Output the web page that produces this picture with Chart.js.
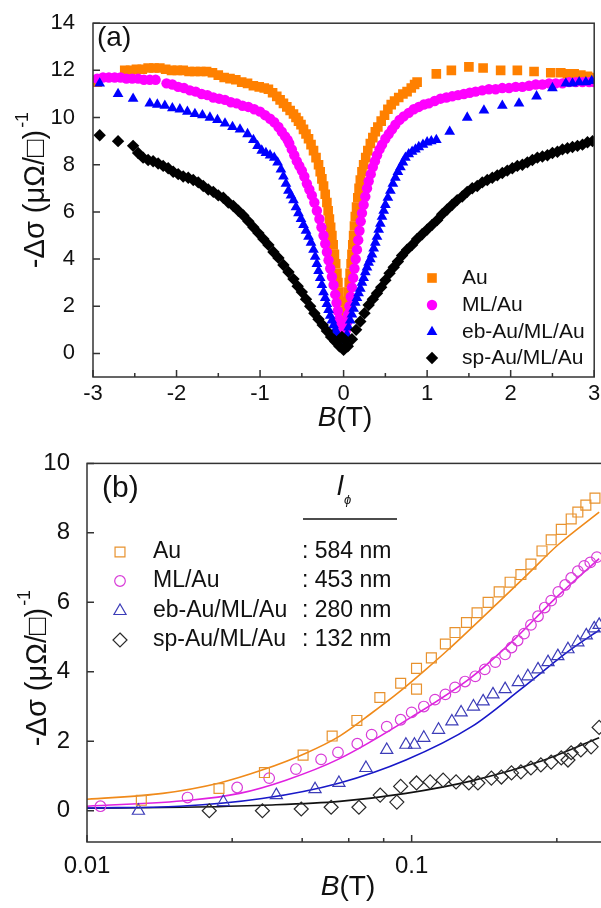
<!DOCTYPE html>
<html>
<head>
<meta charset="utf-8">
<script src="https://cdn.jsdelivr.net/npm/chart.js@4/dist/chart.umd.min.js"></script>
<style>
html, body { margin: 0; padding: 0; background: #fff; overflow: hidden; }
#wrap { position: relative; width: 601px; height: 908px; overflow: hidden; }
#chartA { position: absolute; left: 0; top: 0; }
#chartB { position: absolute; left: 0; top: 440px; }
</style>
</head>
<body>
<div id="wrap">
  <canvas id="chartA" width="601" height="440"></canvas>
  <canvas id="chartB" width="745" height="468"></canvas>
</div>
<script>
// panel (a): -dsigma vs B, linear field axis
const seriesNames = ['Au', 'ML/Au', 'eb-Au/ML/Au', 'sp-Au/ML/Au'];
const phaseLengths = [': 584 nm', ': 453 nm', ': 280 nm', ': 132 nm'];

const auA = [[-2.95,11.5],[-2.62,12.0],[-2.55,12.0],[-2.48,12.05],[-2.41,12.05],[-2.34,12.1],[-2.27,12.1],[-2.2,12.1],[-2.13,12.05],[-2.06,12.0],[-1.99,12.0],[-1.92,12.0],[-1.85,11.95],[-1.78,11.95],[-1.71,11.95],[-1.64,11.95],[-1.57,11.9],[-1.5,11.8],[-1.43,11.7],[-1.36,11.65],[-1.29,11.6],[-1.22,11.5],[-1.15,11.45],[-1.08,11.35],[-1.01,11.3],[-0.95,11.25],[-0.9,11.2],[-0.85,11.05],[-0.8,10.9],[-0.76,10.75],[-0.72,10.6],[-0.68,10.45],[-0.64,10.3],[-0.6,10.15],[-0.57,10.0],[-0.54,9.85],[-0.51,9.7],[-0.48,9.5],[-0.45,9.3],[-0.42,9.1],[-0.39,8.85],[-0.36,8.6],[-0.33,8.3],[-0.3,8.0],[-0.28,7.7],[-0.26,7.4],[-0.24,7.1],[-0.22,6.75],[-0.2,6.4],[-0.185,6.05],[-0.17,5.7],[-0.155,5.35],[-0.14,5.0],[-0.125,4.6],[-0.11,4.2],[-0.095,3.8],[-0.08,3.4],[-0.068,3.0],[-0.056,2.6],[-0.045,2.2],[-0.035,1.8],[-0.025,1.4],[-0.015,1.0],[-0.005,0.6],[0.005,0.6],[0.015,1.0],[0.025,1.4],[0.035,1.8],[0.045,2.2],[0.056,2.6],[0.067,3.0],[0.078,3.4],[0.09,3.8],[0.1,4.2],[0.11,4.6],[0.12,5.0],[0.13,5.4],[0.14,5.8],[0.155,6.2],[0.17,6.6],[0.185,7.0],[0.2,7.35],[0.22,7.7],[0.24,8.0],[0.265,8.3],[0.29,8.6],[0.32,8.9],[0.35,9.15],[0.38,9.4],[0.41,9.6],[0.45,9.85],[0.49,10.1],[0.53,10.35],[0.57,10.55],[0.61,10.7],[0.66,10.85],[0.71,11.0],[0.76,11.1],[0.81,11.25],[0.85,11.4],[0.88,11.5],[1.11,11.85],[1.29,12.0],[1.5,12.15],[1.67,12.1],[1.88,12.0],[2.08,12.0],[2.28,11.95],[2.48,11.9],[2.6,11.9],[2.68,11.85],[2.76,11.85],[2.84,11.8],[2.92,11.75],[3.0,11.7]];

const mlA = [[-2.95,11.65],[-2.88,11.7],[-2.81,11.7],[-2.74,11.7],[-2.67,11.7],[-2.6,11.65],[-2.53,11.65],[-2.46,11.65],[-2.39,11.6],[-2.32,11.6],[-2.25,11.6],[-2.12,11.45],[-2.05,11.4],[-1.98,11.3],[-1.91,11.25],[-1.84,11.15],[-1.77,11.1],[-1.7,11.0],[-1.63,10.95],[-1.56,10.85],[-1.49,10.8],[-1.42,10.75],[-1.35,10.65],[-1.28,10.6],[-1.21,10.5],[-1.14,10.45],[-1.07,10.35],[-1.0,10.25],[-0.94,10.1],[-0.88,9.95],[-0.83,9.8],[-0.78,9.6],[-0.74,9.4],[-0.7,9.2],[-0.67,9.05],[-0.65,8.9],[-0.62,8.65],[-0.59,8.4],[-0.56,8.15],[-0.53,7.95],[-0.5,7.75],[-0.47,7.5],[-0.44,7.2],[-0.41,6.95],[-0.38,6.7],[-0.35,6.4],[-0.32,6.05],[-0.29,5.7],[-0.265,5.35],[-0.24,5.0],[-0.22,4.65],[-0.2,4.3],[-0.18,3.95],[-0.16,3.6],[-0.14,3.25],[-0.12,2.9],[-0.1,2.5],[-0.085,2.15],[-0.07,1.8],[-0.055,1.45],[-0.04,1.1],[-0.025,0.8],[-0.01,0.5],[0.01,0.6],[0.025,0.95],[0.04,1.3],[0.055,1.65],[0.07,2.0],[0.085,2.4],[0.1,2.8],[0.115,3.2],[0.13,3.6],[0.145,4.0],[0.16,4.4],[0.175,4.8],[0.19,5.2],[0.205,5.6],[0.22,5.95],[0.24,6.3],[0.26,6.65],[0.28,7.0],[0.3,7.3],[0.325,7.6],[0.35,7.9],[0.375,8.15],[0.4,8.4],[0.43,8.65],[0.46,8.85],[0.5,9.1],[0.54,9.3],[0.58,9.5],[0.62,9.7],[0.67,9.9],[0.72,10.05],[0.78,10.2],[0.84,10.35],[0.9,10.45],[0.96,10.55],[1.02,10.6],[1.09,10.7],[1.16,10.8],[1.23,10.85],[1.3,10.9],[1.37,10.95],[1.44,11.0],[1.51,11.05],[1.58,11.1],[1.66,11.15],[1.74,11.2],[1.82,11.2],[1.9,11.25],[1.98,11.25],[2.06,11.3],[2.14,11.3],[2.22,11.35],[2.3,11.4],[2.38,11.4],[2.46,11.45],[2.54,11.45],[2.62,11.45],[2.7,11.5],[2.78,11.5],[2.86,11.5],[2.94,11.5],[3.0,11.5]];

const ebA = [[-2.92,11.45],[-2.7,11.0],[-2.52,10.8],[-2.32,10.6],[-2.23,10.55],[-2.14,10.5],[-2.05,10.4],[-1.96,10.35],[-1.87,10.25],[-1.78,10.15],[-1.69,10.1],[-1.6,10.0],[-1.51,9.9],[-1.42,9.75],[-1.33,9.6],[-1.24,9.5],[-1.15,9.3],[-1.08,9.05],[-1.03,8.8],[-0.98,8.6],[-0.93,8.5],[-0.88,8.4],[-0.83,8.3],[-0.79,8.1],[-0.75,7.8],[-0.72,7.5],[-0.69,7.2],[-0.66,6.9],[-0.63,6.7],[-0.6,6.5],[-0.57,6.2],[-0.54,5.95],[-0.51,5.7],[-0.48,5.45],[-0.45,5.2],[-0.42,4.95],[-0.39,4.7],[-0.36,4.4],[-0.34,4.1],[-0.32,3.8],[-0.3,3.5],[-0.28,3.2],[-0.26,2.9],[-0.24,2.6],[-0.22,2.35],[-0.2,2.1],[-0.18,1.85],[-0.16,1.6],[-0.14,1.4],[-0.12,1.2],[-0.1,1.0],[-0.08,0.85],[-0.06,0.7],[-0.04,0.55],[-0.02,0.45],[0.0,0.4],[0.02,0.5],[0.04,0.8],[0.06,1.1],[0.08,1.4],[0.1,1.65],[0.12,1.9],[0.14,2.15],[0.16,2.35],[0.18,2.55],[0.2,2.75],[0.22,3.0],[0.24,3.2],[0.26,3.45],[0.28,3.65],[0.3,3.85],[0.32,4.0],[0.34,4.2],[0.36,4.45],[0.38,4.7],[0.4,4.95],[0.42,5.25],[0.44,5.5],[0.46,5.8],[0.48,6.05],[0.5,6.3],[0.53,6.6],[0.56,6.9],[0.59,7.2],[0.62,7.45],[0.65,7.7],[0.68,7.9],[0.71,8.1],[0.74,8.3],[0.78,8.45],[0.82,8.55],[0.86,8.65],[0.9,8.75],[0.95,8.85],[1.0,8.95],[1.05,9.0],[1.11,9.05],[1.27,9.4],[1.48,10.0],[1.68,10.3],[1.9,10.5],[2.1,10.6],[2.31,10.9],[2.5,11.25],[2.66,11.45],[2.74,11.45],[2.82,11.5],[2.9,11.5],[2.97,11.55]];

const spA = [[-2.92,9.25],[-2.7,9.0],[-2.52,8.8],[-2.46,8.5],[-2.4,8.3],[-2.34,8.2],[-2.28,8.15],[-2.22,8.05],[-2.16,7.95],[-2.1,7.85],[-2.04,7.7],[-1.98,7.6],[-1.92,7.5],[-1.86,7.45],[-1.8,7.35],[-1.74,7.25],[-1.68,7.1],[-1.62,6.95],[-1.56,6.85],[-1.5,6.7],[-1.44,6.6],[-1.38,6.4],[-1.32,6.25],[-1.26,6.05],[-1.2,5.85],[-1.14,5.6],[-1.08,5.35],[-1.02,5.1],[-0.96,4.85],[-0.9,4.6],[-0.84,4.3],[-0.78,4.05],[-0.72,3.75],[-0.66,3.45],[-0.6,3.15],[-0.55,2.85],[-0.5,2.6],[-0.45,2.3],[-0.4,2.0],[-0.35,1.7],[-0.3,1.45],[-0.25,1.2],[-0.2,0.95],[-0.15,0.7],[-0.1,0.5],[-0.05,0.3],[-0.02,0.7],[0.0,0.15],[0.02,0.55],[0.05,0.3],[0.1,0.6],[0.15,1.0],[0.2,1.35],[0.25,1.7],[0.3,2.05],[0.35,2.3],[0.4,2.55],[0.45,2.8],[0.5,3.1],[0.55,3.4],[0.6,3.65],[0.65,3.9],[0.7,4.15],[0.76,4.4],[0.82,4.6],[0.88,4.85],[0.94,5.05],[1.0,5.25],[1.06,5.45],[1.12,5.65],[1.18,5.9],[1.24,6.1],[1.3,6.3],[1.36,6.5],[1.42,6.65],[1.48,6.85],[1.54,7.0],[1.6,7.1],[1.66,7.25],[1.72,7.35],[1.78,7.45],[1.84,7.55],[1.9,7.65],[1.96,7.75],[2.02,7.85],[2.08,7.95],[2.14,8.0],[2.2,8.1],[2.26,8.2],[2.32,8.3],[2.38,8.35],[2.44,8.4],[2.5,8.5],[2.56,8.55],[2.62,8.65],[2.68,8.7],[2.74,8.75],[2.8,8.8],[2.86,8.85],[2.92,8.95],[2.98,9.0]];

// panel (b): log field axis, markers + fitted curves
const auB = [[0.0147,0.3],[0.0255,0.64],[0.0352,1.1],[0.0463,1.6],[0.0569,2.15],[0.0678,2.6],[0.0798,3.26],[0.0925,3.67],[0.1035,3.5],[0.1035,4.1],[0.115,4.4],[0.127,4.8],[0.136,5.13],[0.1475,5.42],[0.159,5.7],[0.172,6.0],[0.186,6.3],[0.201,6.58],[0.217,6.8],[0.233,7.1],[0.252,7.48],[0.269,7.8],[0.289,8.1],[0.31,8.4],[0.325,8.6],[0.344,8.8],[0.367,9.0]];
const mlB = [[0.011,0.13],[0.0204,0.38],[0.029,0.67],[0.0364,0.94],[0.044,1.2],[0.0526,1.48],[0.0593,1.68],[0.068,1.93],[0.0753,2.19],[0.0838,2.42],[0.0925,2.62],[0.1,2.83],[0.109,3.0],[0.118,3.2],[0.127,3.35],[0.136,3.55],[0.146,3.72],[0.157,3.87],[0.168,4.07],[0.181,4.28],[0.194,4.5],[0.203,4.7],[0.212,4.9],[0.222,5.1],[0.233,5.35],[0.245,5.6],[0.257,5.85],[0.269,6.05],[0.283,6.3],[0.297,6.5],[0.31,6.7],[0.325,6.9],[0.34,7.05],[0.355,7.15],[0.372,7.3]];
const ebB = [[0.0144,0.0],[0.0263,0.25],[0.0383,0.45],[0.0504,0.62],[0.0597,0.8],[0.0723,1.23],[0.0838,1.75],[0.096,1.9],[0.102,1.9],[0.109,2.1],[0.121,2.33],[0.133,2.57],[0.142,2.83],[0.155,3.0],[0.166,3.15],[0.178,3.35],[0.194,3.5],[0.213,3.7],[0.228,3.87],[0.245,4.07],[0.263,4.28],[0.282,4.45],[0.303,4.65],[0.325,4.85],[0.345,5.05],[0.365,5.25],[0.378,5.35]];
const spB = [[0.0238,0.0],[0.0347,0.0],[0.0457,0.05],[0.0565,0.1],[0.0688,0.1],[0.08,0.45],[0.09,0.25],[0.0925,0.7],[0.1035,0.8],[0.114,0.83],[0.125,0.88],[0.137,0.83],[0.15,0.8],[0.16,0.8],[0.176,0.94],[0.189,0.97],[0.203,1.09],[0.217,1.12],[0.233,1.23],[0.25,1.32],[0.269,1.4],[0.289,1.52],[0.303,1.46],[0.31,1.67],[0.332,1.75],[0.357,1.84],[0.378,2.4]];

const auFit = [[0.01,0.33],[0.0171,0.5],[0.0256,0.8],[0.0346,1.17],[0.047,1.65],[0.06,2.15],[0.075,2.8],[0.091,3.4],[0.11,4.05],[0.13,4.65],[0.185,6.0],[0.23,6.85],[0.282,7.65],[0.378,8.6]];
const mlFit = [[0.01,0.13],[0.0207,0.3],[0.0295,0.5],[0.041,0.88],[0.06,1.5],[0.1,2.7],[0.153,3.85],[0.208,4.95],[0.276,6.1],[0.378,7.26]];
const ebFit = [[0.01,0.08],[0.0193,0.13],[0.0346,0.35],[0.06,0.8],[0.096,1.46],[0.153,2.42],[0.217,3.5],[0.31,4.65],[0.378,5.2]];
const spFit = [[0.01,0.07],[0.02,0.1],[0.035,0.16],[0.06,0.27],[0.096,0.5],[0.153,0.86],[0.245,1.4],[0.378,2.1]];

// tick values
const aXMajor = [-3, -2, -1, 0, 1, 2, 3];
const aXMinor = [-2.5, -1.5, -0.5, 0.5, 1.5, 2.5];
const aYMajor = [0, 2, 4, 6, 8, 10, 12, 14];
const bXMajor = [0.01, 0.1, 1];
const bXMinor = [0.028, 0.046, 0.064, 0.082, 0.28];
const bYMajor = [0, 2, 4, 6, 8, 10];

const FONT = '"Liberation Sans", Arial, sans-serif';
const pts = arr => arr.map(p => ({x: p[0], y: p[1]}));

function shape(ctx, style, x, y, r) {
  ctx.beginPath();
  if (style === 'rect') {
    const s = r * Math.SQRT1_2;
    ctx.rect(x - s, y - s, 2 * s, 2 * s);
  } else if (style === 'circle') {
    ctx.arc(x, y, r, 0, Math.PI * 2);
  } else if (style === 'triangle') {
    ctx.moveTo(x, y - r);
    ctx.lineTo(x + r * 0.866, y + r * 0.5);
    ctx.lineTo(x - r * 0.866, y + r * 0.5);
    ctx.closePath();
  } else {
    ctx.moveTo(x, y - r); ctx.lineTo(x + r, y); ctx.lineTo(x, y + r); ctx.lineTo(x - r, y);
    ctx.closePath();
  }
}

function frameAndTicks(chart, xMaj, xMin, yMaj) {
  const ctx = chart.ctx, a = chart.chartArea;
  const xs = chart.scales.x, ys = chart.scales.y;
  ctx.save();
  ctx.strokeStyle = '#333';
  ctx.lineWidth = 1.5;
  ctx.strokeRect(a.left, a.top, a.right - a.left, a.bottom - a.top);
  ctx.beginPath();
  xMaj.forEach(v => { const p = xs.getPixelForValue(v); ctx.moveTo(p, a.bottom); ctx.lineTo(p, a.bottom - 7); });
  xMin.forEach(v => { const p = xs.getPixelForValue(v); ctx.moveTo(p, a.bottom); ctx.lineTo(p, a.bottom - 4); });
  yMaj.forEach(v => { const p = ys.getPixelForValue(v); ctx.moveTo(a.left, p); ctx.lineTo(a.left + 7, p); });
  ctx.stroke();
  ctx.restore();
}

function yTitle(ctx, cx, cy, size) {
  ctx.save();
  ctx.translate(cx, cy);
  ctx.rotate(-Math.PI / 2);
  ctx.fillStyle = '#111';
  ctx.textBaseline = 'middle';
  ctx.textAlign = 'left';
  const main = '-\u0394\u03c3 (\u03bc\u03a9/\u25a1)', sup = '-1';
  ctx.font = size + 'px ' + FONT;
  const w1 = ctx.measureText(main).width;
  const supSize = Math.round(size * 0.62);
  ctx.font = supSize + 'px ' + FONT;
  const w2 = ctx.measureText(sup).width;
  const x0 = -(w1 + w2 + 2) / 2;
  ctx.font = size + 'px ' + FONT;
  ctx.fillText(main, x0, 0);
  ctx.font = supSize + 'px ' + FONT;
  ctx.fillText(sup, x0 + w1 + 2, -size * 0.45);
  ctx.restore();
}

function xTitle(ctx, cx, cy, size) {
  ctx.save();
  ctx.fillStyle = '#111';
  ctx.textBaseline = 'middle';
  ctx.textAlign = 'left';
  ctx.font = 'italic ' + size + 'px ' + FONT;
  const wB = ctx.measureText('B').width;
  ctx.font = size + 'px ' + FONT;
  const wT = ctx.measureText('(T)').width;
  const x0 = cx - (wB + wT) / 2;
  ctx.font = 'italic ' + size + 'px ' + FONT;
  ctx.fillText('B', x0, cy);
  ctx.font = size + 'px ' + FONT;
  ctx.fillText('(T)', x0 + wB, cy);
  ctx.restore();
}

const styles = ['rect', 'circle', 'triangle', 'rectRot'];
const colorsA = ['#FF8000', '#FF00FF', '#0000FF', '#000000'];
const radiiA = [6.8, 5.2, 6.2, 6.2];
const markerB = ['#E8922E', '#D83CD8', '#3C3CB8', '#2a2a2a'];
const lineB = ['#F08A1A', '#E020E0', '#1818C8', '#111111'];
const radiiB = [7, 5.3, 7, 7];

// ---------- chart (a)
const decorA = {
  id: 'decorA',
  afterDraw(chart) {
    const ctx = chart.ctx;
    frameAndTicks(chart, aXMajor, aXMinor, aYMajor);
    ctx.save();
    ctx.fillStyle = '#111';
    ctx.textBaseline = 'middle';
    ctx.font = '28px ' + FONT;
    ctx.fillText('(a)', 97, 38);
    const rows = [278, 305, 332, 358];
    ctx.font = '21px ' + FONT;
    seriesNames.forEach((n, i) => {
      shape(ctx, styles[i], 432, rows[i], radiiA[i]);
      ctx.fillStyle = colorsA[i];
      ctx.fill();
      ctx.fillStyle = '#111';
      ctx.fillText(n, 462, rows[i]);
    });
    ctx.restore();
    yTitle(ctx, 36, 190, 29);
    xTitle(ctx, 345, 418, 28);
  }
};

const setsA = [auA, mlA, ebA, spA].map((d, i) => ({
  label: seriesNames[i],
  data: pts(d),
  pointStyle: styles[i],
  pointRadius: radiiA[i],
  pointBackgroundColor: colorsA[i],
  pointBorderColor: colorsA[i],
  pointBorderWidth: 0,
  showLine: false,
  order: 3 - i
}));

new Chart(document.getElementById('chartA'), {
  type: 'scatter',
  data: { datasets: setsA },
  options: {
    responsive: false,
    animation: false,
    layout: { padding: { top: 14, right: 6, left: 0, bottom: 0 } },
    plugins: { legend: { display: false }, tooltip: { enabled: false } },
    scales: {
      x: {
        type: 'linear', min: -3, max: 3,
        afterBuildTicks: s => { s.ticks = aXMajor.map(v => ({ value: v })); },
        afterFit: s => { s.height = 63; },
        grid: { display: false },
        border: { display: false },
        ticks: { padding: -4, font: { family: FONT, size: 22 }, color: '#111', maxRotation: 0, autoSkip: false }
      },
      y: {
        min: -1, max: 14,
        afterBuildTicks: s => { s.ticks = aYMajor.map(v => ({ value: v })); },
        afterFit: s => { s.width = 93; },
        grid: { display: false },
        border: { display: false },
        ticks: { padding: 10, font: { family: FONT, size: 22 }, color: '#111' }
      }
    }
  },
  plugins: [decorA]
});

// ---------- chart (b)
const decorB = {
  id: 'decorB',
  afterDraw(chart) {
    const ctx = chart.ctx;
    frameAndTicks(chart, bXMajor, bXMinor, bYMajor);
    ctx.save();
    ctx.fillStyle = '#111';
    ctx.textBaseline = 'middle';
    ctx.font = '30px ' + FONT;
    ctx.fillText('(b)', 102, 49);
    const rows = [112, 141, 171, 200];
    ctx.font = '23px ' + FONT;
    seriesNames.forEach((n, i) => {
      shape(ctx, styles[i], 120, rows[i], radiiB[i]);
      ctx.lineWidth = 1.2;
      ctx.strokeStyle = markerB[i];
      ctx.stroke();
      ctx.fillText(n, 153, rows[i]);
      ctx.fillText(phaseLengths[i], 302, rows[i]);
    });
    // l_phi header
    ctx.textBaseline = 'alphabetic';
    ctx.font = 'italic 28px ' + FONT;
    ctx.fillText('l', 337, 55);
    ctx.font = 'italic 13px ' + FONT;
    ctx.fillText('\u03d5', 344, 64);
    ctx.strokeStyle = '#111';
    ctx.lineWidth = 1.5;
    ctx.beginPath();
    ctx.moveTo(303, 79); ctx.lineTo(397, 79);
    ctx.stroke();
    ctx.restore();
    yTitle(ctx, 38, 228, 29);
    xTitle(ctx, 348, 447, 28);
  }
};

const setsB = [];
[auB, mlB, ebB, spB].forEach((d, i) => {
  setsB.push({
    label: seriesNames[i],
    data: pts(d),
    pointStyle: styles[i],
    pointRadius: radiiB[i],
    pointBackgroundColor: 'rgba(0,0,0,0)',
    pointBorderColor: markerB[i],
    pointBorderWidth: 1.2,
    showLine: false
  });
});
[auFit, mlFit, ebFit, spFit].forEach((d, i) => {
  setsB.push({
    label: seriesNames[i] + ' fit',
    data: pts(d),
    showLine: true,
    pointRadius: 0,
    borderColor: lineB[i],
    borderWidth: 1.6,
    cubicInterpolationMode: 'monotone'
  });
});

new Chart(document.getElementById('chartB'), {
  type: 'scatter',
  data: { datasets: setsB },
  options: {
    responsive: false,
    animation: false,
    layout: { padding: { top: 23, right: 6, left: 0, bottom: 0 } },
    plugins: { legend: { display: false }, tooltip: { enabled: false } },
    scales: {
      x: {
        type: 'logarithmic', min: 0.01, max: 1,
        afterBuildTicks: s => { s.ticks = bXMajor.map(v => ({ value: v })); },
        afterFit: s => { s.height = 66; },
        grid: { display: false },
        border: { display: false },
        ticks: { padding: 2, font: { family: FONT, size: 24 }, color: '#111', maxRotation: 0, autoSkip: false,
                 callback: v => String(v) }
      },
      y: {
        min: -0.9, max: 10,
        afterBuildTicks: s => { s.ticks = bYMajor.map(v => ({ value: v })); },
        afterFit: s => { s.width = 87; },
        grid: { display: false },
        border: { display: false },
        ticks: { padding: 9, font: { family: FONT, size: 24 }, color: '#111' }
      }
    }
  },
  plugins: [decorB]
});
</script>
</body>
</html>
